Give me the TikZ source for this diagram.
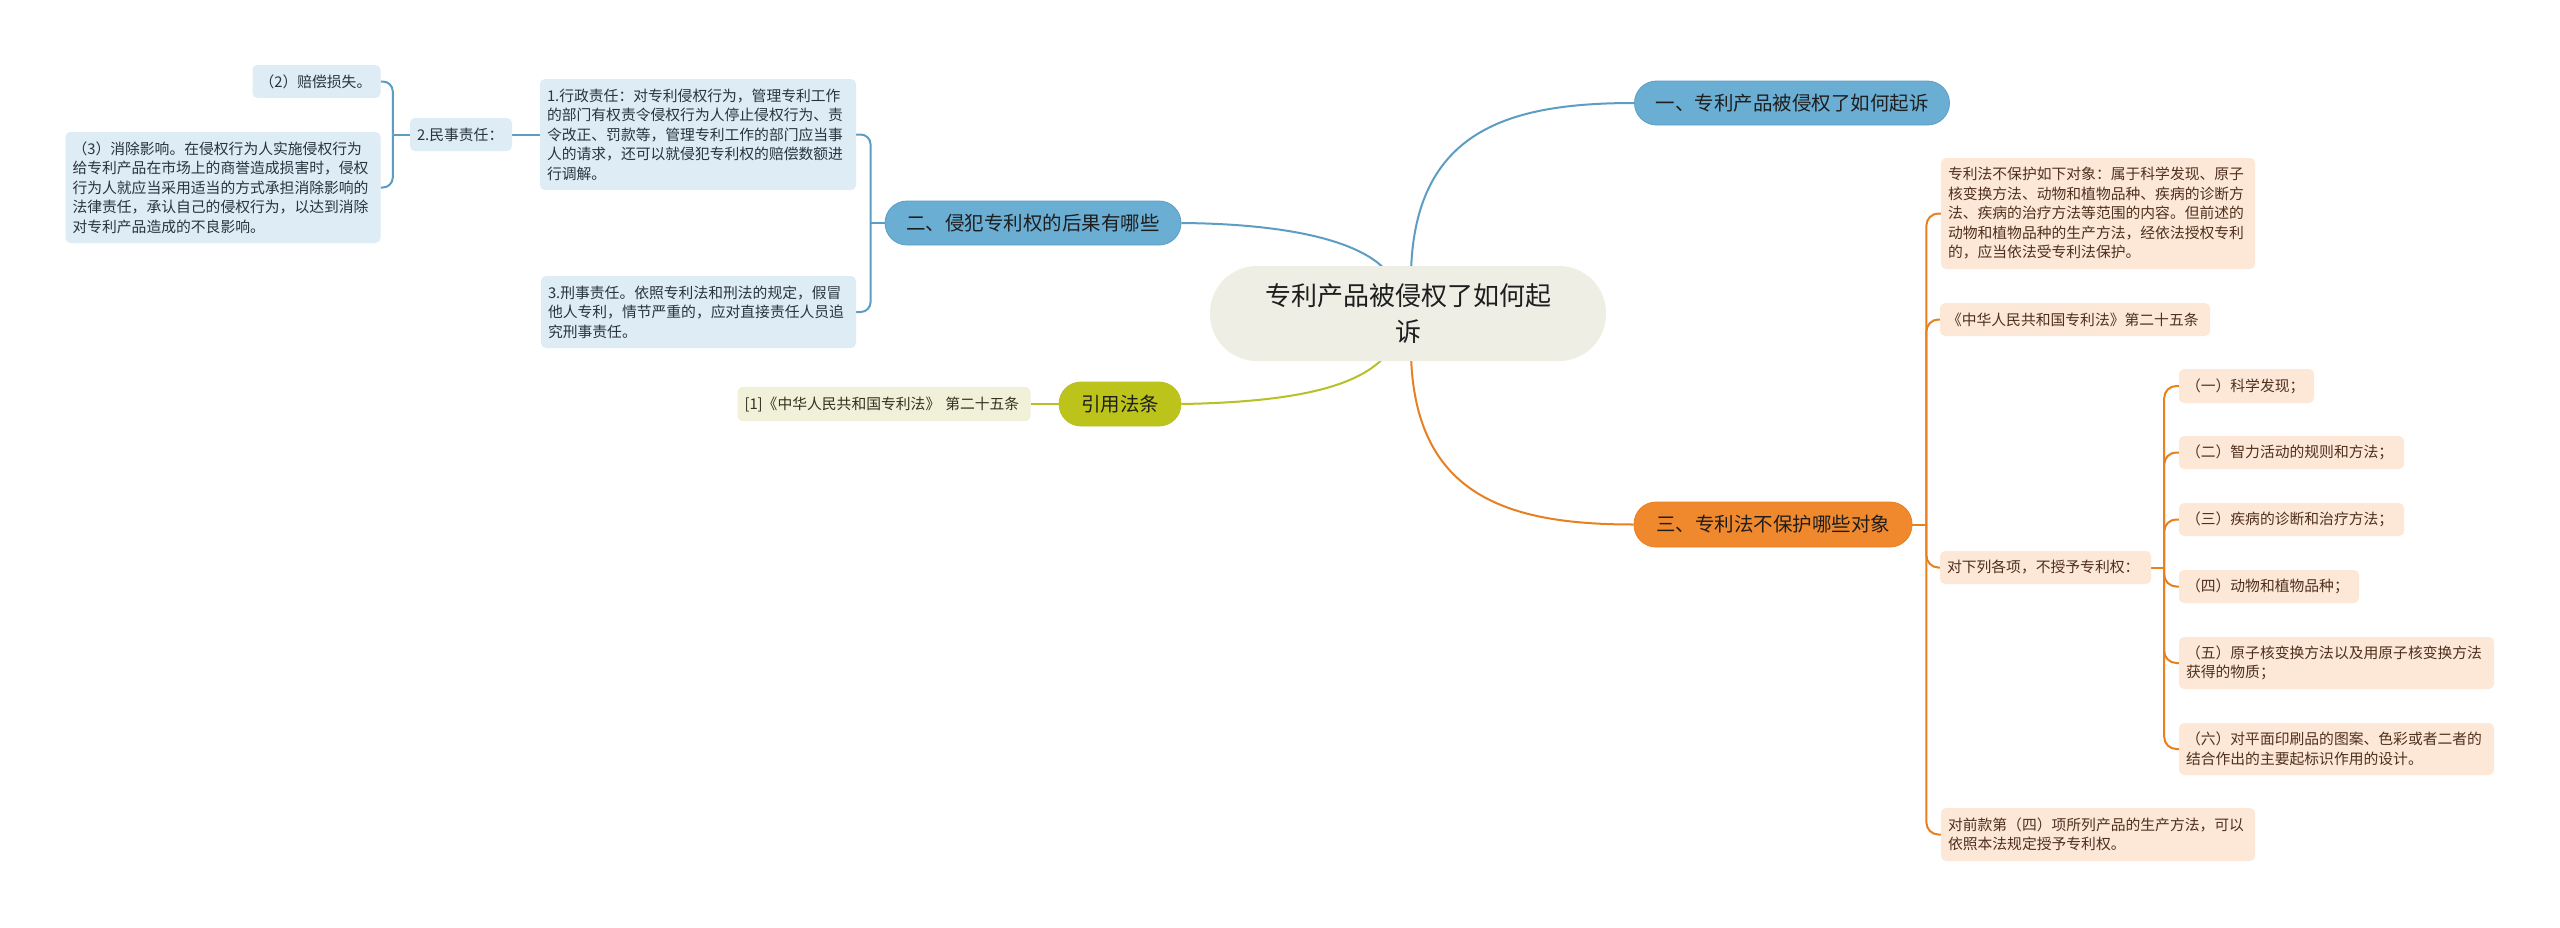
\documentclass[tikz,border=0pt]{standalone}
\usepackage{fontspec}
\setmainfont{Noto Sans CJK SC}
\usetikzlibrary{calc,backgrounds}
\definecolor{centralc}{RGB}{238,238,229}
\definecolor{bmainc}{RGB}{107,174,211}
\definecolor{blinec}{RGB}{92,157,196}
\definecolor{bleafc}{RGB}{222,236,245}
\definecolor{bleaftext}{RGB}{40,52,64}
\definecolor{omainc}{RGB}{240,137,46}
\definecolor{olinec}{RGB}{232,128,32}
\definecolor{oleafc}{RGB}{253,232,216}
\definecolor{oleaftext}{RGB}{78,48,28}
\definecolor{gmainc}{RGB}{188,196,28}
\definecolor{glinec}{RGB}{184,192,38}
\definecolor{gleafc}{RGB}{240,241,216}
\definecolor{gleaftext}{RGB}{50,50,30}
\definecolor{maintext}{RGB}{30,30,30}
\tikzset{
  leaf/.style={rounded corners=5pt, inner xsep=7pt, inner ysep=3pt, align=left,
    font=\fontsize{14.8pt}{19.5pt}\selectfont},
  bleaf/.style={leaf, fill=bleafc, text=bleaftext},
  oleaf/.style={leaf, fill=oleafc, text=oleaftext},
  gleaf/.style={leaf, fill=gleafc, text=gleaftext},
  mainnode/.style={rounded corners=22pt, inner sep=0pt, align=center, line width=0.8pt,
    font=\fontsize{19.5pt}{24pt}\selectfont, text=maintext, minimum height=44pt},
  bmain/.style={mainnode, fill=bmainc, draw=blinec},
  omain/.style={mainnode, fill=omainc, draw=olinec},
  gmain/.style={mainnode, fill=gmainc, draw=glinec},
  centralnode/.style={rounded corners=47pt, fill=centralc, inner sep=0pt, align=center,
    font=\fontsize{26pt}{36pt}\selectfont, text=maintext, minimum width=396pt, minimum height=95pt},
  bline/.style={draw=blinec, line width=2pt},
  oline/.style={draw=olinec, line width=2pt},
  gline/.style={draw=glinec, line width=2pt},
}
\begin{document}
\begin{tikzpicture}[x=1pt,y=-1pt]
\useasboundingbox (0,0) rectangle (2560,927);

% central
\node[centralnode] (c) at (1408,313.5) {专利产品被侵权了如何起\\诉};

% main topics
\node[bmain, minimum width=315pt] (b1) at (1792,103) {一、专利产品被侵权了如何起诉};
\node[bmain, minimum width=296pt] (b2) at (1033,223) {二、侵犯专利权的后果有哪些};
\node[omain, minimum width=278pt, minimum height=45pt] (o) at (1773,524.5) {三、专利法不保护哪些对象};
\node[gmain, minimum width=122pt] (g) at (1120,404) {引用法条};

% left blue leaves
\node[bleaf, text width=302pt, minimum height=111pt] (lA) at (698,134.5) {1.行政责任：对专利侵权行为，管理专利工作\\的部门有权责令侵权行为人停止侵权行为、责\\令改正、罚款等，管理专利工作的部门应当事\\人的请求，还可以就侵犯专利权的赔偿数额进\\行调解。};
\node[bleaf, text width=301pt, minimum height=72pt] (lC) at (698.5,312) {3.刑事责任。依照专利法和刑法的规定，假冒\\他人专利，情节严重的，应对直接责任人员追\\究刑事责任。};
\node[bleaf, text width=88pt, minimum height=33pt] (lB) at (461,134.5) {2.民事责任：};
\node[bleaf, text width=114pt, minimum height=33pt] (lB2) at (316.5,81.5) {（2）赔偿损失。};
\node[bleaf, text width=301pt, minimum height=111pt] (lB3) at (223,187.5) {（3）消除影响。在侵权行为人实施侵权行为\\给专利产品在市场上的商誉造成损害时，侵权\\行为人就应当采用适当的方式承担消除影响的\\法律责任，承认自己的侵权行为，以达到消除\\对专利产品造成的不良影响。};

% green leaf
\node[gleaf, text width=279pt, minimum height=34pt] (gl) at (884,404) {[1]《中华人民共和国专利法》 第二十五条};

% orange leaves
\node[oleaf, text width=300pt, minimum height=111pt] (o1) at (2098,213.5) {专利法不保护如下对象：属于科学发现、原子\\核变换方法、动物和植物品种、疾病的诊断方\\法、疾病的治疗方法等范围的内容。但前述的\\动物和植物品种的生产方法，经依法授权专利\\的，应当依法受专利法保护。};
\node[oleaf, text width=256pt, minimum height=33pt] (o2) at (2075,319.5) {《中华人民共和国专利法》第二十五条};
\node[oleaf, text width=197pt, minimum height=33pt] (o3) at (2045.5,567.5) {对下列各项，不授予专利权：};
\node[oleaf, text width=300pt, minimum height=53pt] (o4) at (2098,834.5) {对前款第（四）项所列产品的生产方法，可以\\依照本法规定授予专利权。};

\node[oleaf, text width=121pt, minimum height=34pt] (p1) at (2246.5,386) {（一）科学发现；};
\node[oleaf, text width=211pt, minimum height=33pt] (p2) at (2291.5,452.5) {（二）智力活动的规则和方法；};
\node[oleaf, text width=211pt, minimum height=33pt] (p3) at (2291.5,519.5) {（三）疾病的诊断和治疗方法；};
\node[oleaf, text width=166pt, minimum height=33pt] (p4) at (2269,586.5) {（四）动物和植物品种；};
\node[oleaf, text width=301pt, minimum height=52pt] (p5) at (2336.5,663) {（五）原子核变换方法以及用原子核变换方法\\获得的物质；};
\node[oleaf, text width=301pt, minimum height=52pt] (p6) at (2336.5,749) {（六）对平面印刷品的图案、色彩或者二者的\\结合作出的主要起标识作用的设计。};

\begin{pgfonlayer}{background}
\fill[white] (0,0) rectangle (2560,927);
% main curves
\draw[bline] ($(c.north)+(3,6)$) .. controls ($(c.north)+(7,-136)$) and ($(b1.west)+(-125,0)$) .. (b1.west);
\draw[oline] ($(c.south)+(3,-6)$) .. controls ($(c.south)+(7,136)$) and ($(o.west)+(-124,0)$) .. (o.west);
\draw[bline] (b2.east) .. controls ($(b2.east)+(119,1)$) and ($(c.north)+(-43,-21)$) .. ($(c.north)+(-21,6)$);
\draw[gline] (g.east) .. controls ($(g.east)+(119,-2)$) and ($(c.south)+(-48,24)$) .. ($(c.south)+(-22,-6)$);

% left blue tree
\draw[bline] (b2.west) -- ++(-14,0) coordinate (bs);
\draw[bline, rounded corners=10pt] (bs) |- (lA.east);
\draw[bline, rounded corners=10pt] (bs) |- (lC.east);
\draw[bline] (lA.west) -- (lB.east);
\draw[bline] (lB.west) -- ++(-17,0) coordinate (ls);
\draw[bline, rounded corners=10pt] (ls) |- (lB2.east);
\draw[bline, rounded corners=10pt] (ls) |- (lB3.east);

% green
\draw[gline] (g.west) -- (gl.east);

% orange tree
\draw[oline] (o.east) -- ++(14,0) coordinate (os);
\foreach \n in {o1,o2,o3,o4}
  \draw[oline, rounded corners=12pt] (os) |- (\n.west);
\draw[oline] (o3.east) -- ++(13,0) coordinate (ps);
\foreach \n in {p1,p2,p3,p4,p5,p6}
  \draw[oline, rounded corners=12pt] (ps) |- (\n.west);
\end{pgfonlayer}
\end{tikzpicture}
\end{document}
